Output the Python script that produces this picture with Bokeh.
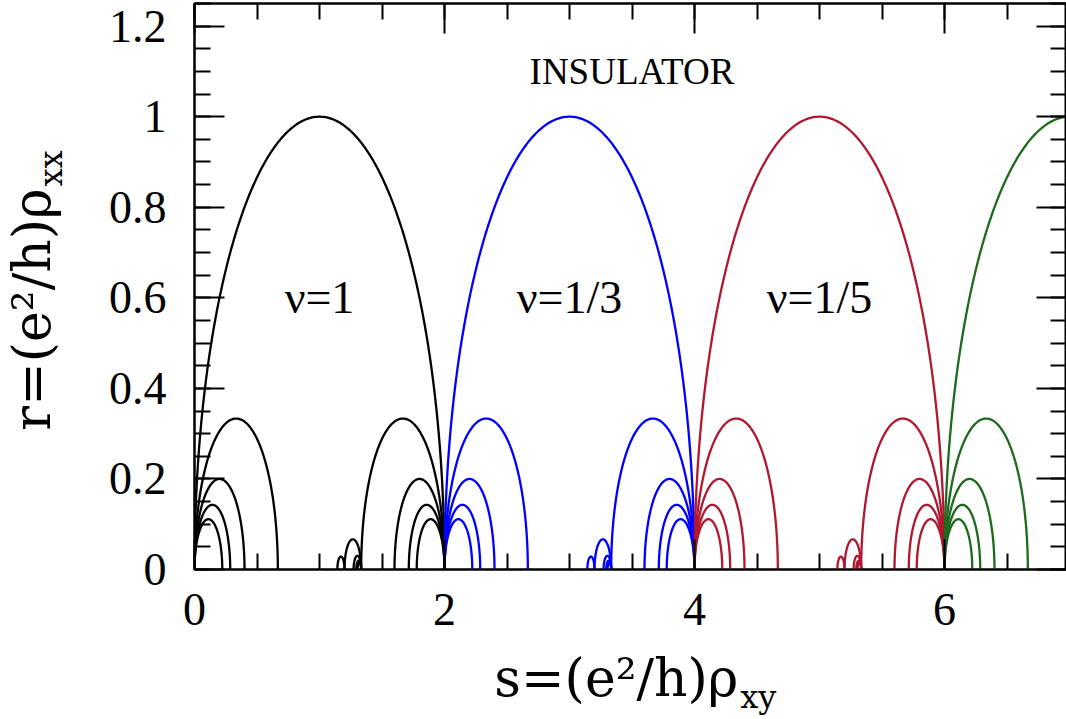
import numpy as np
from bokeh.plotting import figure
from bokeh.layouts import row, column
from bokeh.models import LinearAxis, FixedTicker, Range1d
from bokeh.core.properties import value
from bokeh.embed import file_html
from bokeh.resources import INLINE

# ---------------- data ----------------
fan_denoms = [3, 5, 7, 9]                       # fan circles of diameter 2/d at each cusp
small_arcs = [(6/5, 4/3), (8/7, 6/5), (14/11, 4/3), (22/17, 4/3), (30/23, 4/3)]
period = 2.0
cell_colors = ["#000000", "#0000ff", "#b01830", "#1d6a1d"]
nu_text = ["ν=1", "ν=1/3", "ν=1/5"]
nu_s = [1, 3, 5]
nu_r = [0.6, 0.6, 0.6]
region_text = ["INSULATOR"]
region_s = [3.5]
region_r = [1.10]
x_ticks = [0, 2, 4, 6]
x_tick_labels = ["0", "2", "4", "6"]
x_minor = [0.5 * i for i in range(0, 15)]
y_ticks = [0, 0.2, 0.4, 0.6, 0.8, 1.0, 1.2]
y_tick_labels = ["0", "0.2", "0.4", "0.6", "0.8", "1", "1.2"]
y_minor = [0.05 * i for i in range(0, 26)]
x_title, x_sub = "s=(e²/h)ρ", "xy"
y_title, y_sub = "r=(e²/h)ρ", "xx"

FONT = "Liberation Serif"
TFONT = "DejaVu Serif"

YW = 80          # width of the strip holding the y title
MAIN_W, MAIN_H = 1066 - YW, 647
XT_H = 719 - MAIN_H

p = figure(width=MAIN_W, height=MAIN_H, x_range=Range1d(0, 6.976), y_range=Range1d(0, 1.25),
           output_backend="svg", toolbar_location=None,
           x_axis_location=None, y_axis_location=None,
           min_border_left=114, min_border_right=0, min_border_top=3, min_border_bottom=78)
p.xgrid.visible = False
p.ygrid.visible = False
p.outline_line_color = "black"
p.outline_line_width = 2
p.background_fill_color = "white"
p.border_fill_color = "white"

theta = np.linspace(0, np.pi, 240)
for k, col in enumerate(cell_colors):
    a0 = period * k
    arcs = [(a0, a0 + 2)]
    arcs += [(a0, a0 + 2 / d) for d in fan_denoms]
    arcs += [(a0 + 2 - 2 / d, a0 + 2) for d in fan_denoms]
    arcs += [(a0 + u, a0 + v) for (u, v) in small_arcs]
    xs, ys = [], []
    for (a, b) in arcs:
        c = (a + b) / 2
        R = (b - a) / 2
        xs.append(list(c + R * np.cos(theta)))
        ys.append(list(R * np.sin(theta)))
    p.multi_line(xs, ys, line_color=col, line_width=2.3)

def make_axis(ticks, minor, labels, show_labels, standoff=24):
    ax = LinearAxis(ticker=FixedTicker(ticks=ticks, minor_ticks=minor))
    ax.axis_line_color = "black"
    ax.axis_line_width = 2
    ax.major_tick_in = 30
    ax.major_tick_out = 0
    ax.minor_tick_in = 16
    ax.minor_tick_out = 0
    ax.major_tick_line_width = 2
    ax.minor_tick_line_width = 2
    ax.major_tick_line_color = "black"
    ax.minor_tick_line_color = "black"
    if show_labels:
        ax.major_label_overrides = {t: l for t, l in zip(ticks, labels)}
        ax.major_label_text_font = FONT
        ax.major_label_text_font_size = "46px"
        ax.major_label_text_color = "black"
        ax.major_label_standoff = standoff
    else:
        ax.major_label_overrides = {t: "" for t in ticks}
        ax.major_label_text_font_size = "0px"
        ax.major_label_standoff = 0
    return ax

p.add_layout(make_axis(x_ticks, x_minor, x_tick_labels, True, 24), "below")
p.add_layout(make_axis(y_ticks, y_minor, y_tick_labels, True, 28), "left")
p.add_layout(make_axis(x_ticks, x_minor, x_tick_labels, False), "above")
p.add_layout(make_axis(y_ticks, y_minor, y_tick_labels, False), "right")

p.text(x=nu_s, y=nu_r, text=nu_text, text_font=value(FONT), text_font_size="46px",
       text_align="center", text_baseline="middle", text_color="black")
p.text(x=region_s, y=region_r, text=region_text, text_font=value(FONT), text_font_size="37px",
       text_align="center", text_baseline="middle", text_color="black")

def strip(w, h):
    f = figure(width=w, height=h, x_range=Range1d(0, w), y_range=Range1d(0, h),
               output_backend="svg", toolbar_location=None,
               x_axis_location=None, y_axis_location=None,
               min_border=0, min_border_left=0, min_border_right=0,
               min_border_top=0, min_border_bottom=0)
    f.xgrid.visible = False
    f.ygrid.visible = False
    f.outline_line_color = None
    f.background_fill_color = "white"
    f.border_fill_color = "white"
    return f

# x title strip (below the main plot)
xf = strip(MAIN_W, XT_H)
xf.text(x=[615], y=[42], text=[x_title], text_font=value(TFONT), text_font_size="52px",
        text_align="right", text_baseline="middle", text_color="black")
xf.text(x=[617], y=[23], text=[x_sub], text_font=value(TFONT), text_font_size="32px",
        text_align="left", text_baseline="middle", text_color="black")

# y title strip (left of the main plot)
yf = strip(YW, 719)
yf.text(x=[31], y=[531], text=[y_title], text_font=value(TFONT), text_font_size="52px",
        text_align="right", text_baseline="middle", angle=np.pi / 2, text_color="black")
yf.text(x=[50], y=[533], text=[y_sub], text_font=value(TFONT), text_font_size="32px",
        text_align="left", text_baseline="middle", angle=np.pi / 2, text_color="black")

layout = row(yf, column(p, xf, spacing=0), spacing=0)
open("out.html", "w").write(file_html(layout, INLINE))
